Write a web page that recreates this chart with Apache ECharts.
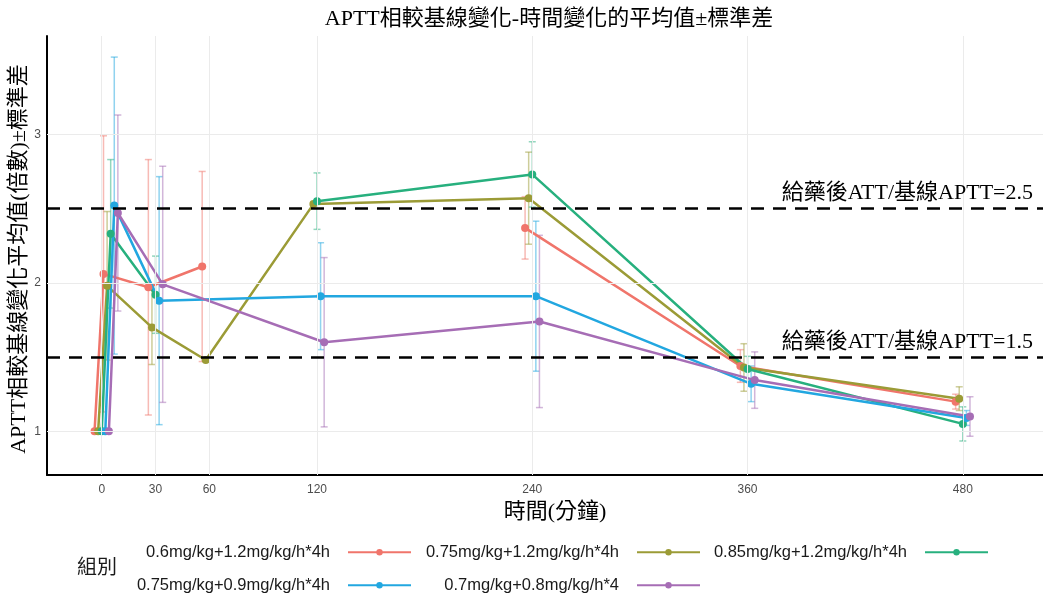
<!DOCTYPE html>
<html>
<head>
<meta charset="utf-8">
<script src="https://cdn.jsdelivr.net/npm/echarts@6/dist/echarts.min.js"></script>
<style>
html,body{margin:0;padding:0;background:#fff}
#main{width:1043px;height:594px}
</style>
</head>
<body>
<div id="main"></div>
<script>
// 時間點（分鐘）與刻度
var times = [0, 5, 30, 60, 120, 240, 360, 480];
var tickTimes = [0, 30, 60, 120, 240, 360, 480];
var yTicks = [1, 2, 3];
var refLevels = [2.5, 1.5];

// 組別
var groupNames = ['0.6mg/kg+1.2mg/kg/h*4h', '0.75mg/kg+1.2mg/kg/h*4h', '0.85mg/kg+1.2mg/kg/h*4h',
    '0.75mg/kg+0.9mg/kg/h*4h', '0.7mg/kg+0.8mg/kg/h*4'];
var groupColors = ['#F0756B', '#9B9B36', '#27B07E', '#22A7E0', '#A66DB5'];
var groupDodge = [-4, -2, 0, 2, 4];
var groupConnect = [false, false, false, true, true];

// 平均值 / 標準差 (null = 無資料)
var mean1 = [1, 2.06, 1.97, 2.11, null, 2.37, 1.44, 1.20];
var sd1   = [0, 0.93, 0.86, 0.64, null, 0.21, 0.11, 0.05];
var mean2 = [1, 1.98, 1.70, 1.48, 2.53, 2.57, 1.43, 1.22];
var sd2   = [0, 0.50, 0.25, 0, 0, 0.31, 0.16, 0.08];
var mean3 = [1, 2.33, 1.92, null, 2.55, 2.73, 1.42, 1.05];
var sd3   = [0, 0.50, 0.26, null, 0.19, 0.22, 0.085, 0.115];
var mean4 = [1, 2.52, 1.88, null, 1.91, 1.91, 1.32, 1.09];
var sd4   = [0, 1.00, 0.835, null, 0.36, 0.505, 0.12, 0.05];
var mean5 = [1, 2.47, 1.99, null, 1.60, 1.74, 1.345, 1.10];
var sd5   = [0, 0.66, 0.795, null, 0.57, 0.58, 0.19, 0.133];

var means = [mean1, mean2, mean3, mean4, mean5];
var sds = [sd1, sd2, sd3, sd4, sd5];

var serifFont = "'Liberation Serif', 'Noto Sans CJK TC', serif";
var sansFont = "'Liberation Sans', Arial, 'Noto Sans CJK TC', sans-serif";

// 誤差線
function renderErrorBar(params, api) {
    var x = api.value(0);
    var top = api.coord([x, api.value(2)]);
    var bot = api.coord([x, api.value(1)]);
    var w = 3.5;
    var style = {stroke: api.visual('color'), lineWidth: 1.5, opacity: 0.5};
    return {
        type: 'group',
        children: [
            {type: 'line', shape: {x1: top[0], y1: top[1], x2: bot[0], y2: bot[1]}, style: style},
            {type: 'line', shape: {x1: top[0] - w, y1: top[1], x2: top[0] + w, y2: top[1]}, style: style},
            {type: 'line', shape: {x1: bot[0] - w, y1: bot[1], x2: bot[0] + w, y2: bot[1]}, style: style}
        ]
    };
}

var series = [];

// 平均值折線
groupNames.forEach(function (name, g) {
    series.push({
        type: 'line', name: name, z: 2,
        connectNulls: groupConnect[g],
        symbol: 'circle', symbolSize: 8,
        lineStyle: {width: 2.5, color: groupColors[g]},
        itemStyle: {color: groupColors[g]},
        data: times.map(function (t, i) { return [t + groupDodge[g], means[g][i]]; })
    });
});

// 格線
var gridLines = [];
tickTimes.forEach(function (t) { gridLines.push({xAxis: t}); });
yTicks.forEach(function (v) { gridLines.push({yAxis: v}); });
series.push({
    type: 'line', data: [], z: 0, silent: true,
    markLine: {
        silent: true, symbol: 'none', label: {show: false},
        lineStyle: {color: '#ebebeb', width: 1, type: 'solid'},
        data: gridLines
    }
});

// 誤差線系列
groupNames.forEach(function (name, g) {
    var bars = [];
    times.forEach(function (t, i) {
        var m = means[g][i], s = sds[g][i];
        if (m != null && s) {
            bars.push([t + groupDodge[g], m - s, m + s]);
        }
    });
    series.push({
        type: 'custom', name: name + ' sd', z: 1, silent: true,
        itemStyle: {color: groupColors[g]},
        renderItem: renderErrorBar,
        data: bars
    });
});

// 參考線
series.push({
    type: 'line', data: [], z: 3, silent: true,
    markLine: {
        silent: true, symbol: 'none',
        lineStyle: {color: '#000', width: 2.5, type: [13, 9]},
        label: {
            position: 'insideEndTop', distance: [10, 4],
            fontFamily: serifFont, fontSize: 22, color: '#000',
            formatter: function (p) { return '給藥後ATT/基線APTT=' + p.value; }
        },
        data: refLevels.map(function (v) { return {yAxis: v}; })
    }
});

// 圖例
var legendPos = [[631, 544], [342, 544], [54, 544], [631, 577], [342, 577]];
var legends = groupNames.map(function (name, g) {
    return {
        data: [name], right: legendPos[g][0], top: legendPos[g][1],
        align: 'right', itemWidth: 63, itemHeight: 8, padding: 0,
        textStyle: {fontSize: 16.5, fontFamily: sansFont, color: '#1a1a1a', padding: [0, 13, 0, 0]}
    };
});

var chart = echarts.init(document.getElementById('main'));
var option = {
    animation: false,
    backgroundColor: '#fff',
    graphic: [{
        type: 'text', x: 549, y: 19,
        style: {
            text: 'APTT相較基線變化-時間變化的平均值±標準差', align: 'center', verticalAlign: 'middle',
            font: '22px ' + serifFont, fill: '#000'
        }
    }, {
        type: 'text', x: 19, y: 259, rotation: Math.PI / 2,
        style: {
            text: 'APTT相較基線變化平均值(倍數)±標準差', align: 'center', verticalAlign: 'middle',
            font: '22px ' + serifFont, fill: '#000'
        }
    }, {
        type: 'text', x: 77, y: 566,
        style: {
            text: '組別', align: 'left', verticalAlign: 'middle',
            font: "20px 'Noto Sans CJK TC', sans-serif", fill: '#1a1a1a'
        }
    }],
    legend: legends,
    grid: {left: 47, right: 0, top: 36, bottom: 119, containLabel: false, outerBoundsMode: 'none'},
    xAxis: {
        type: 'value', min: -30.5, max: 524.7,
        name: '時間(分鐘)', nameLocation: 'middle', nameGap: 24,
        nameTextStyle: {fontFamily: serifFont, fontSize: 22, color: '#000', padding: [0, 0, 0, 20]},
        axisLine: {show: true, onZero: false, lineStyle: {color: '#000', width: 2}},
        axisTick: {show: false},
        splitLine: {show: false},
        axisLabel: {customValues: tickTimes, color: '#4d4d4d', fontSize: 12, fontFamily: sansFont, margin: 9}
    },
    yAxis: {
        type: 'value', min: 0.706, max: 3.662,
        axisLine: {show: true, onZero: false, lineStyle: {color: '#000', width: 2}},
        axisTick: {show: false},
        splitLine: {show: false},
        axisLabel: {customValues: yTicks, color: '#4d4d4d', fontSize: 12, fontFamily: sansFont, margin: 6}
    },
    series: series
};
chart.setOption(option);
</script>
</body>
</html>
